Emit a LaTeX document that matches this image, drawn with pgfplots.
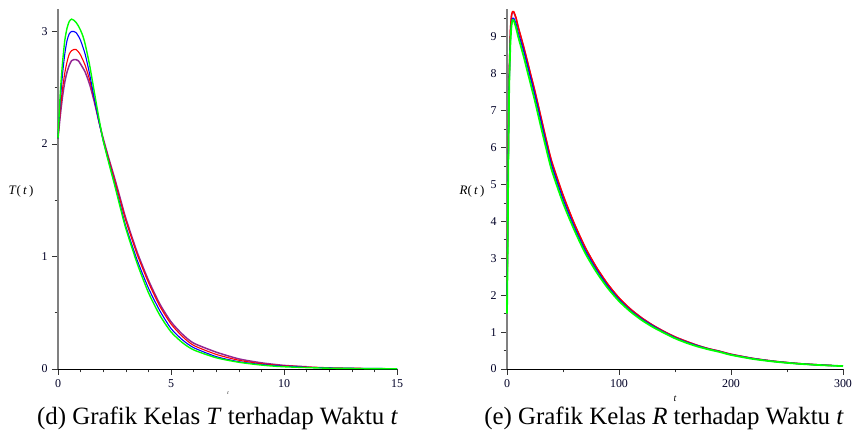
\documentclass[border=0pt]{standalone}
\usepackage{pgfplots}
\pgfplotsset{compat=1.18}
\usepackage{fontspec}
\setmainfont{Liberation Serif}
\definecolor{mgreen}{RGB}{0,255,0}
\definecolor{mblue}{RGB}{0,0,255}
\definecolor{mred}{RGB}{255,0,0}
\definecolor{mpurple}{RGB}{128,0,128}
\pgfplotsset{
  mapleaxis/.style={
    scale only axis, anchor=south west,
    axis lines=left, axis line style={-},
    x axis line style={black, line width=0.8bp},
    y axis line style={gray, line width=1.6bp},
    tick align=outside,
    major tick length=6bp, minor tick length=3.5bp,
    every tick/.style={black!80, line width=0.6bp},
    tick label style={font=\fontsize{12}{12}\selectfont, text=black!85!blue},
    /pgf/number format/assume math mode=true,
    clip=false,
    every axis plot/.append style={smooth, tension=0.4},
  }
}
\begin{document}
\begin{tikzpicture}
\path[use as bounding box] (0bp,0bp) rectangle (852bp,439bp);
% ---------- left: T(t)
\begin{axis}[mapleaxis, at={(58bp,70bp)}, width=339bp, height=360bp,
  xmin=0, xmax=15, ymin=0, ymax=3.2,
  xtick={0,5,10,15}, minor xtick={1,2,3,4,6,7,8,9,11,12,13,14},
  ytick={0,1,2,3}, minor ytick={0.5,1.5,2.5},
  xticklabel style={yshift=-1bp}, yticklabel style={xshift=-1bp}]
\addplot[mpurple, line width=1.5bp, opacity=0.85] coordinates {
(0,2.05)(0.1,2.25)(0.2,2.42)(0.3,2.55)(0.4,2.64)(0.5,2.70)(0.6,2.74)(0.7,2.75)(0.8,2.75)(0.9,2.74)(1.0,2.71)(1.2,2.64)(1.4,2.53)(1.6,2.38)(1.8,2.21)(2.0,2.05)(2.25,1.87)(2.5,1.70)(2.75,1.52)(3.0,1.34)(3.5,1.04)(4,0.79)(4.5,0.58)(5,0.42)(5.5,0.31)(6,0.23)(7,0.15)(8,0.09)(9,0.055)(10,0.032)(11,0.02)};
\addplot[mred, line width=1.1bp] coordinates {
(0,2.05)(0.1,2.30)(0.2,2.49)(0.3,2.63)(0.4,2.73)(0.5,2.80)(0.6,2.83)(0.7,2.84)(0.8,2.84)(0.9,2.82)(1.0,2.79)(1.2,2.70)(1.4,2.57)(1.6,2.40)(1.8,2.21)(2.0,2.04)(2.25,1.86)(2.5,1.68)(2.75,1.50)(3.0,1.32)(3.5,1.02)(4,0.77)(4.5,0.56)(5,0.40)(5.5,0.29)(6,0.21)(7,0.13)(8,0.078)(9,0.047)(10,0.029)(12,0.011)(13.5,0.006)};
\addplot[mblue, line width=1.1bp] coordinates {
(0,2.05)(0.1,2.38)(0.2,2.62)(0.3,2.80)(0.4,2.92)(0.5,2.98)(0.6,3.00)(0.7,3.00)(0.8,2.99)(0.9,2.96)(1.0,2.92)(1.2,2.80)(1.4,2.62)(1.6,2.41)(1.8,2.21)(2.0,2.03)(2.25,1.84)(2.5,1.65)(2.75,1.46)(3.0,1.27)(3.5,0.97)(4,0.72)(4.5,0.52)(5,0.36)(5.5,0.26)(6,0.19)(7,0.11)(8,0.065)(9,0.04)(10,0.025)(12,0.009)(15,0.003)};
\addplot[mgreen, line width=1.4bp] coordinates {
(0,2.05)(0.1,2.45)(0.2,2.72)(0.3,2.92)(0.4,3.03)(0.5,3.09)(0.6,3.11)(0.7,3.10)(0.8,3.08)(0.9,3.05)(1.0,3.01)(1.1,2.96)(1.2,2.89)(1.4,2.70)(1.6,2.47)(1.8,2.24)(2.0,2.03)(2.25,1.83)(2.5,1.64)(2.75,1.44)(3.0,1.25)(3.5,0.94)(4,0.68)(4.5,0.48)(5,0.33)(5.5,0.235)(6,0.17)(7,0.10)(8,0.06)(9,0.035)(10,0.02)(12,0.007)(15,0.002)};
\end{axis}
% ---------- right: R(t)
\begin{axis}[mapleaxis, at={(507bp,70bp)}, width=336bp, height=360bp,
  xmin=0, xmax=300, ymin=0, ymax=9.75,
  xtick={0,100,200,300}, minor xtick={50,150,250},
  ytick={0,1,...,9}, minor ytick={0.5,1.5,...,9.5},
  xticklabel style={yshift=-1bp}, yticklabel style={xshift=-1bp}]
\addplot[mpurple, line width=1.5bp, opacity=0.8] coordinates {
(0,2.0)(0.5,3.5)(1,5.4)(1.5,6.9)(2,8.0)(3,9.1)(4,9.55)(5,9.66)(6,9.66)(8,9.5)(10,9.25)(15,8.7)(20,8.1)(25,7.5)(30,6.85)(35,6.2)(40,5.6)(50,4.7)(60,3.93)(70,3.27)(80,2.74)(90,2.29)(100,1.92)(110,1.63)(120,1.39)(130,1.19)(140,1.02)(150,0.87)(160,0.75)(170,0.64)(180,0.55)(190,0.48)(200,0.40)(220,0.285)(240,0.205)(260,0.148)(280,0.11)(290,0.095)};
\addplot[mred, line width=1.4bp] coordinates {
(0,2.0)(0.5,3.5)(1,5.4)(1.5,6.9)(2,8.0)(3,9.15)(4,9.58)(5,9.68)(6,9.68)(8,9.52)(10,9.27)(15,8.72)(20,8.12)(25,7.52)(30,6.87)(35,6.22)(40,5.62)(50,4.72)(60,3.95)(70,3.29)(80,2.75)(90,2.30)(100,1.93)(110,1.63)(120,1.39)(130,1.19)(140,1.02)(150,0.87)(160,0.75)(170,0.64)(180,0.55)(190,0.48)(200,0.40)(220,0.285)(240,0.205)(260,0.148)(280,0.11)(290,0.095)};
\addplot[mblue, line width=1.3bp] coordinates {
(0,2.0)(0.5,3.4)(1,5.2)(1.5,6.7)(2,7.8)(3,8.9)(4,9.35)(5,9.5)(6,9.5)(8,9.35)(10,9.1)(15,8.6)(20,8.0)(25,7.4)(30,6.75)(35,6.1)(40,5.5)(50,4.6)(60,3.85)(70,3.2)(80,2.68)(90,2.24)(100,1.88)(110,1.59)(120,1.36)(130,1.17)(140,1.0)(150,0.85)(160,0.73)(170,0.63)(180,0.54)(190,0.47)(200,0.39)(220,0.28)(240,0.2)(260,0.145)(280,0.108)(300,0.08)};
\addplot[mgreen, line width=1.8bp] coordinates {
(0,1.5)(0.5,3.0)(1,5.0)(1.5,6.6)(2,7.7)(3,8.8)(4,9.3)(5,9.45)(6,9.44)(8,9.25)(10,9.0)(15,8.45)(20,7.85)(25,7.25)(30,6.6)(35,5.97)(40,5.38)(50,4.5)(60,3.77)(70,3.13)(80,2.62)(90,2.19)(100,1.84)(110,1.56)(120,1.33)(130,1.14)(140,0.98)(150,0.83)(160,0.71)(170,0.61)(180,0.53)(190,0.46)(200,0.38)(220,0.27)(240,0.195)(260,0.142)(280,0.105)(300,0.078)};
\end{axis}
% labels
\node[font=\fontsize{13}{13}\selectfont] at (21bp,248bp) {\textit{T}(\,\textit{t}\,)};
\node[font=\fontsize{13}{13}\selectfont] at (472bp,248bp) {\textit{R}(\,\textit{t}\,)};
\node[font=\fontsize{5}{5}\selectfont] at (228bp,46bp) {\textit{t}};
\node[font=\fontsize{10}{10}\selectfont] at (675bp,40bp) {\textit{t}};
\node[anchor=base, font=\fontsize{25}{25}\selectfont, inner sep=0] at (217.5bp,15bp) {(d) Grafik Kelas \textit{T} terhadap Waktu \textit{t}};
\node[anchor=base, font=\fontsize{25}{25}\selectfont, inner sep=0] at (664bp,15bp) {(e) Grafik Kelas \textit{R} terhadap Waktu \textit{t}};
\end{tikzpicture}
\end{document}
